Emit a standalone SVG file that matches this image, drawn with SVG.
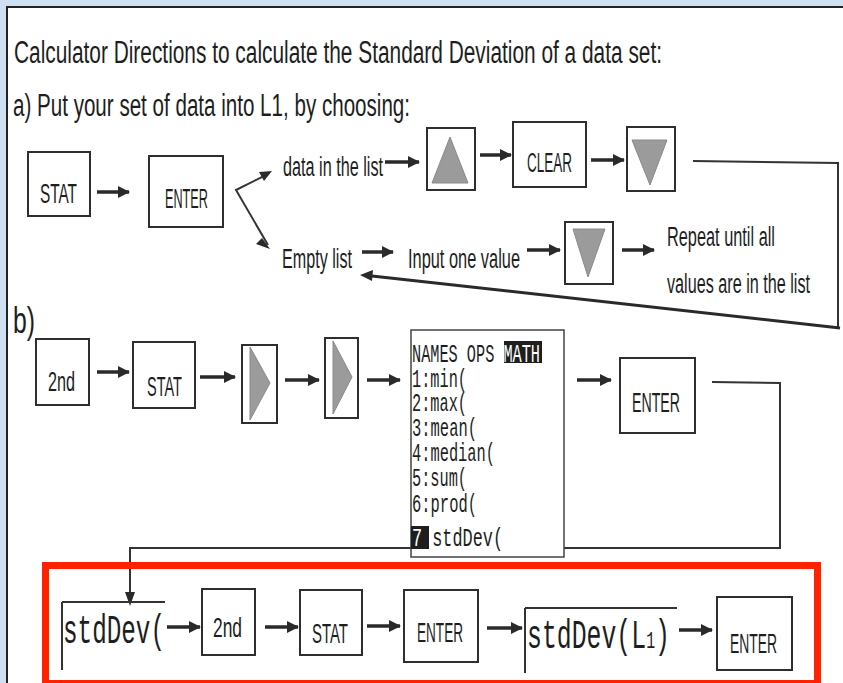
<svg xmlns="http://www.w3.org/2000/svg" width="843" height="683" viewBox="0 0 843 683">
<defs>
<marker id="ah" markerUnits="userSpaceOnUse" markerWidth="12" markerHeight="12" refX="11" refY="6" orient="auto">
<path d="M0,0 L12,6 L0,12 Z" fill="#2a2a2a"/>
</marker>
<style>
.hand{font-family:"Liberation Sans",Arial,sans-serif;fill:#1e1e1e;}
.mono{font-family:"Liberation Mono","DejaVu Sans Mono",monospace;fill:#1e1e1e;}
.box{fill:#fff;stroke:#2e2e2e;stroke-width:2;}
.tri{fill:#9b9b9b;stroke:#8a8a8a;stroke-width:1;}
.arr{stroke:#2a2a2a;stroke-width:3.5;fill:none;marker-end:url(#ah);}
.ln{stroke:#333;stroke-width:2;fill:none;}
.lab{font-size:27px;}
.key{font-size:27px;}
.menu{font-size:26px;}
</style>
</defs>
<rect x="0" y="0" width="843" height="683" fill="#cfe0f2"/>
<rect x="7" y="7" width="850" height="690" fill="#ffffff" stroke="#222" stroke-width="2"/>

<g id="title">
<text class="hand" x="14" y="63" font-size="31" textLength="648" lengthAdjust="spacingAndGlyphs">Calculator Directions to calculate the Standard Deviation of a data set:</text>
<text class="hand" x="13" y="116" font-size="31" textLength="397" lengthAdjust="spacingAndGlyphs">a) Put your set of data into L1, by choosing:</text>
<text class="hand" x="13" y="333" font-size="36" textLength="22" lengthAdjust="spacingAndGlyphs">b)</text>
</g>

<g id="connectors">
<line class="arr" x1="97" y1="192" x2="129" y2="192"/>
<polyline class="ln" points="268,174 236,190 268,245" stroke-width="3"/>
<path d="M272,171 L259,172 L264,181 Z" fill="#2a2a2a"/>
<path d="M270,249 L262,238 L256,244 Z" fill="#2a2a2a"/>
<line class="arr" x1="385" y1="162" x2="419" y2="162"/>
<line class="arr" x1="480" y1="155" x2="511" y2="155"/>
<line class="arr" x1="591" y1="160" x2="624" y2="160"/>
<polyline class="ln" points="693,161 838,163 838,328"/>
<line stroke="#2a2a2a" stroke-width="3" x1="840" y1="328" x2="372" y2="276"/>
<path d="M360,275 L373,270 L372,281 Z" fill="#2a2a2a"/>
<line class="arr" x1="362" y1="252" x2="393" y2="252"/>
<line class="arr" x1="527" y1="250" x2="560" y2="250"/>
<line class="arr" x1="622" y1="250" x2="654" y2="250"/>
<line class="arr" x1="97" y1="372" x2="129" y2="372"/>
<line class="arr" x1="200" y1="377" x2="235" y2="377"/>
<line class="arr" x1="285" y1="380" x2="319" y2="380"/>
<line class="arr" x1="367" y1="380" x2="400" y2="380"/>
<line class="arr" x1="577" y1="380" x2="611" y2="380"/>
<polyline class="ln" points="712,382 780,383 780,548 130,548 130,596"/>
<path d="M130,606 L125,592 L135,592 Z" fill="#2a2a2a"/>
<line class="arr" x1="167" y1="627" x2="200" y2="627"/>
<line class="arr" x1="265" y1="627" x2="298" y2="627"/>
<line class="arr" x1="367" y1="626" x2="400" y2="626"/>
<line class="arr" x1="487" y1="628" x2="522" y2="628"/>
<line class="arr" x1="679" y1="630" x2="712" y2="630"/>
</g>

<g id="stat-a">
<rect class="box" x="28" y="152" width="62" height="64"/>
<text class="hand key" x="40" y="203" textLength="37" lengthAdjust="spacingAndGlyphs">STAT</text>
</g>
<g id="enter-a">
<rect class="box" x="149" y="156" width="74" height="71"/>
<text class="hand key" x="165" y="208" textLength="43" lengthAdjust="spacingAndGlyphs">ENTER</text>
</g>
<g id="data-in-list">
<text class="hand lab" x="283" y="176" textLength="100" lengthAdjust="spacingAndGlyphs">data in the list</text>
</g>
<g id="up-key">
<rect class="box" x="427" y="128" width="48" height="62"/>
<polygon class="tri" points="450,137 432,183 468,183"/>
</g>
<g id="clear-key">
<rect class="box" x="513" y="122" width="73" height="65"/>
<text class="hand key" x="527" y="172" textLength="45" lengthAdjust="spacingAndGlyphs">CLEAR</text>
</g>
<g id="down-key-a">
<rect class="box" x="627" y="127" width="48" height="64"/>
<polygon class="tri" points="632,140 667,140 650,185"/>
</g>
<g id="empty-list">
<text class="hand lab" x="282" y="268" textLength="70" lengthAdjust="spacingAndGlyphs">Empty list</text>
</g>
<g id="input-one-value">
<text class="hand lab" x="408" y="268" textLength="112" lengthAdjust="spacingAndGlyphs">Input one value</text>
</g>
<g id="down-key-b">
<rect class="box" x="565" y="222" width="48" height="62"/>
<polygon class="tri" points="573,229 605,229 588,277"/>
</g>
<g id="repeat">
<text class="hand lab" x="667" y="246" textLength="108" lengthAdjust="spacingAndGlyphs">Repeat until all</text>
<text class="hand lab" x="667" y="293" textLength="143" lengthAdjust="spacingAndGlyphs">values are in the list</text>
</g>

<g id="second-b">
<rect class="box" x="36" y="339" width="53" height="66"/>
<text class="hand key" x="48" y="391" textLength="27" lengthAdjust="spacingAndGlyphs">2nd</text>
</g>
<g id="stat-b">
<rect class="box" x="133" y="342" width="62" height="66"/>
<text class="hand key" x="147" y="396" textLength="35" lengthAdjust="spacingAndGlyphs">STAT</text>
</g>
<g id="right-key-1">
<rect class="box" x="242" y="345" width="35" height="78"/>
<polygon class="tri" points="250,347 270,383 250,420"/>
</g>
<g id="right-key-2">
<rect class="box" x="325" y="338" width="33" height="80"/>
<polygon class="tri" points="333,341 352,377 333,414"/>
</g>
<g id="menu-screen">
<rect x="411" y="330" width="153" height="227" fill="#fff" stroke="#444" stroke-width="1.5"/>
<rect x="504" y="341" width="38" height="22" fill="#1e1e1e"/>
<text class="mono menu" x="412" y="362" textLength="128" lengthAdjust="spacingAndGlyphs">NAMES OPS <tspan style="fill:#fff">MATH</tspan></text>
<text class="mono menu" x="412" y="387" textLength="55" lengthAdjust="spacingAndGlyphs">1:min(</text>
<text class="mono menu" x="412" y="411" textLength="55" lengthAdjust="spacingAndGlyphs">2:max(</text>
<text class="mono menu" x="412" y="436" textLength="65" lengthAdjust="spacingAndGlyphs">3:mean(</text>
<text class="mono menu" x="412" y="461" textLength="83" lengthAdjust="spacingAndGlyphs">4:median(</text>
<text class="mono menu" x="412" y="486" textLength="55" lengthAdjust="spacingAndGlyphs">5:sum(</text>
<text class="mono menu" x="412" y="512" textLength="65" lengthAdjust="spacingAndGlyphs">6:prod(</text>
<rect x="411" y="526" width="18" height="23" fill="#1e1e1e"/>
<text class="mono menu" x="412" y="546" textLength="91" lengthAdjust="spacingAndGlyphs"><tspan style="fill:#fff">7</tspan>:stdDev(</text>
</g>
<g id="enter-b">
<rect class="box" x="620" y="358" width="75" height="75"/>
<text class="hand key" x="632" y="412" textLength="48" lengthAdjust="spacingAndGlyphs">ENTER</text>
</g>

<rect x="45.5" y="565.5" width="772" height="118" fill="none" stroke="#ff2200" stroke-width="7"/>

<g id="stddev-open">
<line class="ln" x1="62" y1="602" x2="165" y2="602"/>
<line class="ln" x1="62" y1="602" x2="62" y2="670" stroke-width="1.5"/>
<text class="mono" x="63" y="643" font-size="40" textLength="102" lengthAdjust="spacingAndGlyphs">stdDev(</text>
</g>
<g id="second-c">
<rect class="box" x="202" y="589" width="53" height="66"/>
<text class="hand key" x="213" y="637" textLength="29" lengthAdjust="spacingAndGlyphs">2nd</text>
</g>
<g id="stat-c">
<rect class="box" x="300" y="590" width="62" height="65"/>
<text class="hand key" x="312" y="643" textLength="36" lengthAdjust="spacingAndGlyphs">STAT</text>
</g>
<g id="enter-c">
<rect class="box" x="404" y="590" width="74" height="72"/>
<text class="hand key" x="417" y="642" textLength="46" lengthAdjust="spacingAndGlyphs">ENTER</text>
</g>
<g id="stddev-l1">
<line class="ln" x1="525" y1="608" x2="677" y2="608"/>
<line class="ln" x1="525" y1="608" x2="525" y2="673" stroke-width="1.5"/>
<text class="mono" x="527" y="648" font-size="40" textLength="143" lengthAdjust="spacingAndGlyphs">stdDev(L<tspan font-size="24">1</tspan>)</text>
</g>
<g id="enter-d">
<rect class="box" x="717" y="597" width="75" height="73"/>
<text class="hand key" x="730" y="653" textLength="47" lengthAdjust="spacingAndGlyphs">ENTER</text>
</g>
</svg>
